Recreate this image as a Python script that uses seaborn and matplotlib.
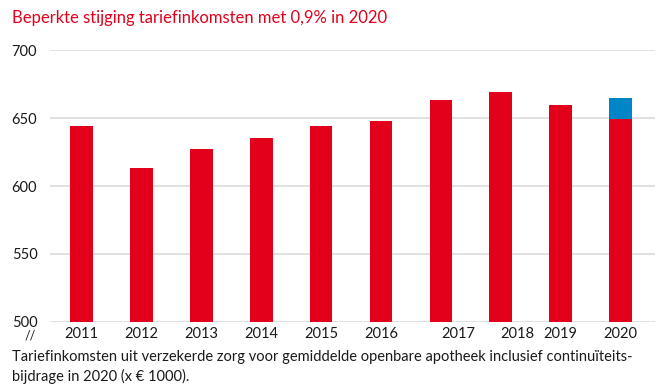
import matplotlib
matplotlib.use("Agg")
import matplotlib.pyplot as plt
import matplotlib.transforms as mtransforms
import seaborn as sns
import pandas as pd

# data (x EUR 1000)
years = ["2011", "2012", "2013", "2014", "2015", "2016", "2017", "2018", "2019", "2020"]
base_values = [644, 613, 627, 635, 644, 648, 663, 669, 660, 649]
total_values = [644, 613, 627, 635, 644, 648, 663, 669, 660, 665]
y_ticks = [500, 550, 600, 650, 700]

RED = "#E2001A"
BLUE = "#0085C7"

sns.set_theme(style="white")
plt.rcParams["font.family"] = ["Lato", "DejaVu Sans"]

df = pd.DataFrame({"jaar": years, "basis": base_values, "totaal": total_values})

fig = plt.figure(figsize=(6.64, 3.92), dpi=100)
ax = fig.add_axes([0.075, 0.179, 0.911, 0.693])

# stacked look: total in blue, base in red on top
sns.barplot(data=df, x="jaar", y="totaal", color=BLUE, width=0.38,
            saturation=1, linewidth=0, ax=ax, zorder=2)
sns.barplot(data=df, x="jaar", y="basis", color=RED, width=0.38,
            saturation=1, linewidth=0, ax=ax, zorder=3)

ax.set_ylim(500, 700)
ax.set_xlim(-0.53, 9.57)
ax.set_yticks(y_ticks)
ax.set_yticklabels([str(t) for t in y_ticks])
ax.set_xlabel("")
ax.set_ylabel("")
ax.grid(axis="y", color="#dcdcdc", linewidth=1.2, zorder=0)
ax.set_axisbelow(True)
for s in ax.spines.values():
    s.set_visible(False)

ax.tick_params(axis="y", length=0, pad=27.4, labelsize=10.5, labelcolor="#1a1a1a")
ax.tick_params(axis="x", length=0, pad=4, labelsize=10.5, labelcolor="#1a1a1a")
for lbl in ax.get_yticklabels():
    lbl.set_horizontalalignment("left")

# in the original the 2017 and 2018 labels sit a bit to the right
for lbl in ax.get_xticklabels():
    if lbl.get_text() in ("2017", "2018"):
        lbl.set_transform(lbl.get_transform() +
                          mtransforms.ScaledTranslation(0.17, 0, fig.dpi_scale_trans))

fig.text(0.037, 0.145, "//", fontsize=9, color="#1a1a1a", va="center", ha="left")

fig.text(0.018, 0.955, "Beperkte stijging tariefinkomsten met 0,9% in 2020",
         color=RED, fontsize=12, va="center", ha="left")
fig.text(0.018, 0.09,
         "Tariefinkomsten uit verzekerde zorg voor gemiddelde openbare apotheek inclusief continuïteits-",
         fontsize=10.5, color="#1a1a1a", va="center", ha="left")
fig.text(0.018, 0.04, "bijdrage in 2020 (x € 1000).",
         fontsize=10.5, color="#1a1a1a", va="center", ha="left")

fig.savefig("out.png", dpi=100)
